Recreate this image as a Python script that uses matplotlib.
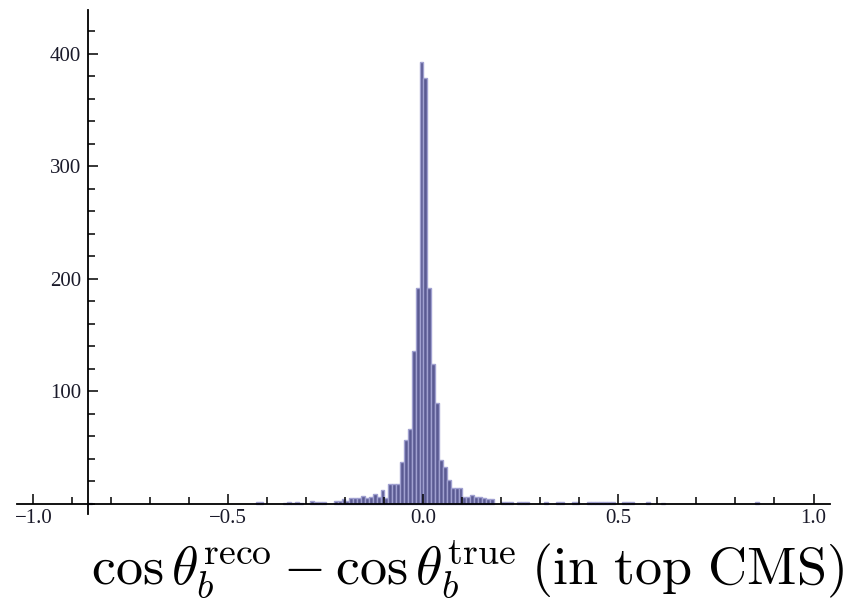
#!/usr/bin/env python3
"""Histogram of cos(theta_b) reco - true residuals, Mathematica look."""

import matplotlib
matplotlib.use("Agg")
import matplotlib.pyplot as plt
from matplotlib.ticker import MultipleLocator, FixedLocator

BIN_WIDTH = 0.01
# left edge of each filled bin, with its count
BIN_LO = [
    -0.86,
    -0.43, -0.42,
    -0.36, -0.35, -0.34, -0.33, -0.32,
    -0.29, -0.28, -0.27, -0.26,
    -0.23, -0.22, -0.21, -0.20,
    -0.19, -0.18, -0.17, -0.16, -0.15, -0.14, -0.13, -0.12, -0.11, -0.10,
    -0.09, -0.08, -0.07, -0.06, -0.05, -0.04, -0.03, -0.02, -0.01,
    0.00, 0.01, 0.02, 0.03, 0.04, 0.05, 0.06, 0.07, 0.08, 0.09,
    0.10, 0.11, 0.12, 0.13, 0.14, 0.15, 0.16, 0.17,
    0.20, 0.21, 0.22, 0.24, 0.25, 0.26, 0.31, 0.34, 0.35, 0.38, 0.39,
    0.42, 0.43, 0.44, 0.45, 0.46, 0.47, 0.48, 0.51, 0.52, 0.53,
    0.57, 0.61, 0.85,
]
COUNTS = [
    1,
    2, 2,
    1, 2, 1, 2, 1,
    3, 2, 2, 2,
    3, 3, 4, 3,
    5, 5, 5, 7, 5, 6, 9, 6, 12, 5,
    18, 18, 18, 37, 57, 67, 136, 192, 393,
    379, 192, 124, 90, 39, 33, 21, 14, 14, 14,
    6, 6, 8, 6, 6, 5, 4, 4,
    2, 2, 2, 2, 2, 2, 2, 2, 2, 2, 2,
    2, 2, 2, 2, 2, 2, 2, 2, 2, 2,
    2, 1, 2,
]

X_MAJOR = [-1.0, -0.5, 0.0, 0.5, 1.0]
X_LABELS = ["\u22121.0", "\u22120.5", "0.0", "0.5", "1.0"]
Y_MAJOR = [100, 200, 300, 400]

KLEUR_VLAK = "#5a5a92"
KLEUR_RAND = "#a0a0d0"

plt.rcParams.update({
    "font.family": "Liberation Serif",
    "mathtext.fontset": "cm",
})

fig = plt.figure(figsize=(8.53, 6.05), dpi=100)
ax = fig.add_axes([0.0199, 0.1504, 0.953, 0.833])

ax.bar(BIN_LO, COUNTS, width=BIN_WIDTH, align="edge",
       color=KLEUR_VLAK, edgecolor=KLEUR_RAND, linewidth=1.0)

ax.set_xlim(-1.042, 1.042)
ax.set_ylim(-9, 439)

for s in ["top", "right"]:
    ax.spines[s].set_visible(False)
ax.spines["left"].set_position(("data", -0.86))
ax.spines["bottom"].set_position(("data", 0))
ax.spines["left"].set_linewidth(1.3)
ax.spines["bottom"].set_linewidth(1.3)

ax.xaxis.set_major_locator(FixedLocator(X_MAJOR))
ax.set_xticklabels(X_LABELS)
ax.xaxis.set_minor_locator(MultipleLocator(0.1))
ax.yaxis.set_major_locator(FixedLocator(Y_MAJOR))
ax.yaxis.set_minor_locator(MultipleLocator(20))

ax.tick_params(which="both", direction="in", width=1.1, colors="black",
               labelcolor="#1a1a2a", labelsize=15)
ax.tick_params(which="major", length=7)
ax.tick_params(which="minor", length=5)
ax.tick_params(axis="x", pad=4)
ax.tick_params(axis="y", pad=5)

fig.text(0.548, 0.035,
         r"$\cos\theta_b^{\mathrm{reco}}-\cos\theta_b^{\mathrm{true}}\;(\mathrm{in\ top\ CMS})$",
         ha="center", va="baseline", fontsize=39)

fig.savefig("out.png", dpi=100)
